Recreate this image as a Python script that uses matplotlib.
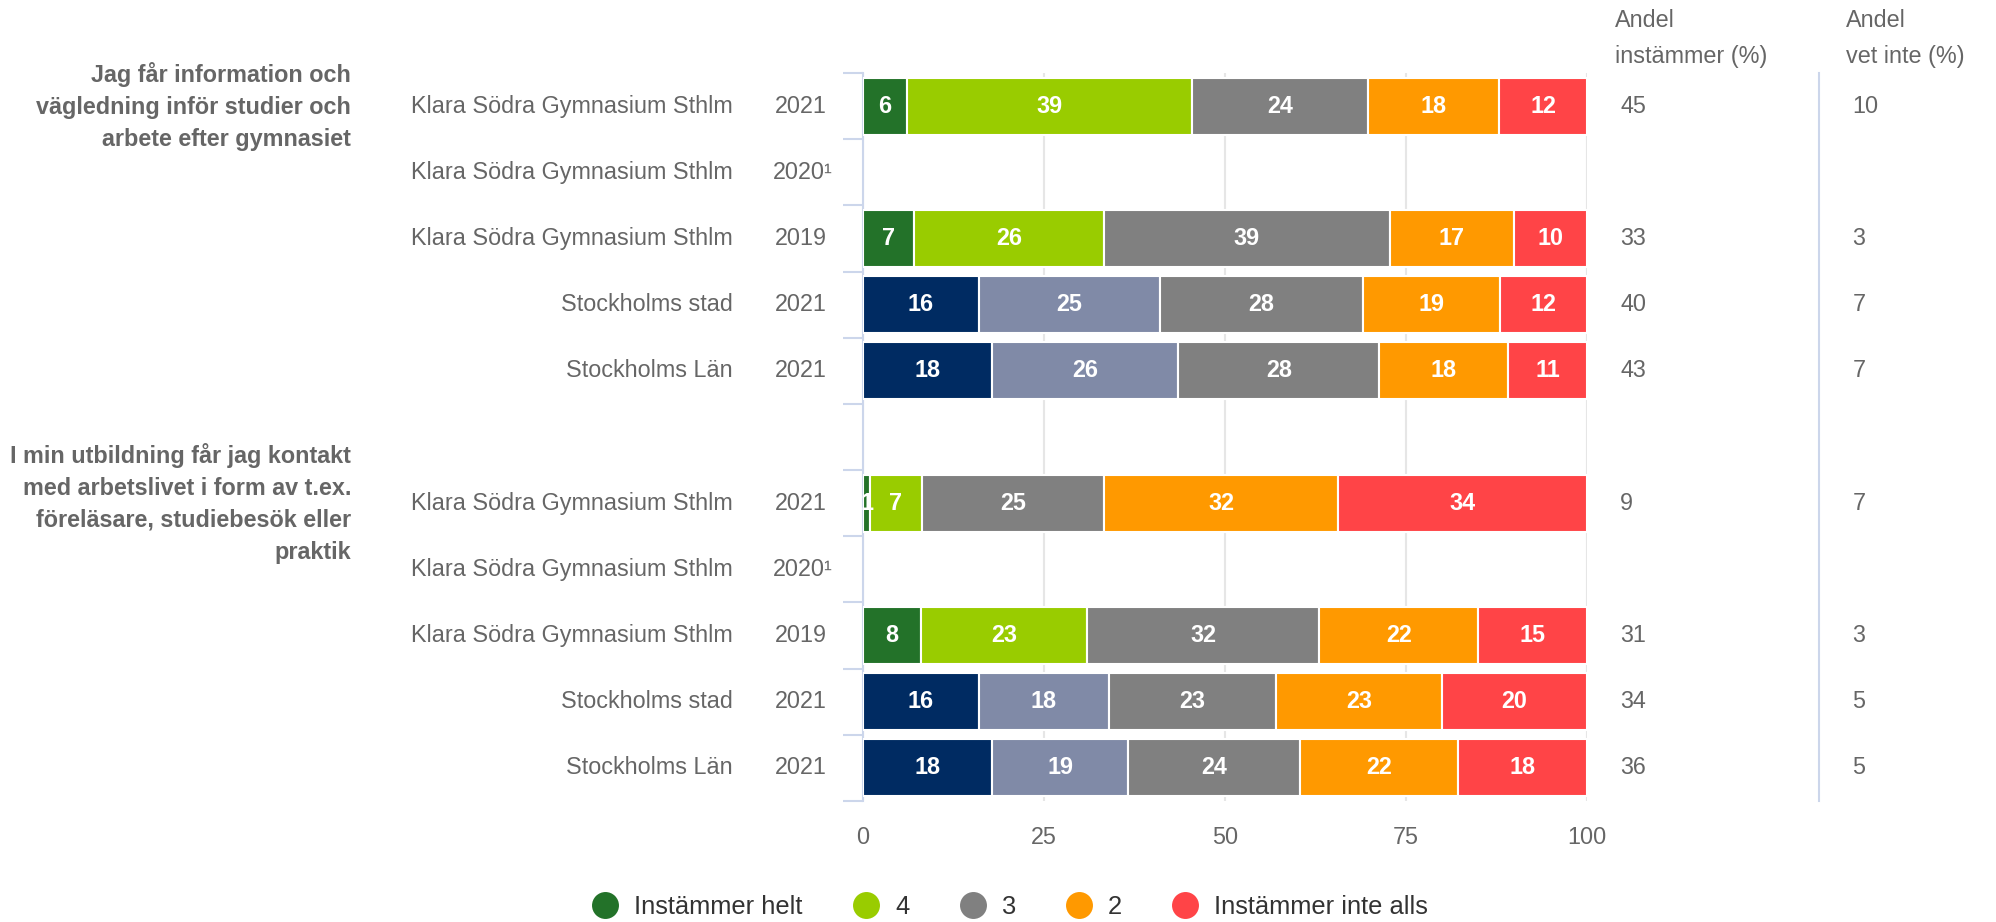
import numpy as np
import matplotlib
matplotlib.use('Agg')
import matplotlib.pyplot as plt
from matplotlib.lines import Line2D

plt.rcParams['font.family'] = ['Liberation Sans', 'DejaVu Sans']

# data
questions = ['Jag får information och\nvägledning inför studier och\narbete efter gymnasiet',
             'I min utbildning får jag kontakt\nmed arbetslivet i form av t.ex.\nföreläsare, studiebesök eller\npraktik']
units = ['Klara Södra Gymnasium Sthlm', 'Klara Södra Gymnasium Sthlm',
         'Klara Södra Gymnasium Sthlm', 'Stockholms stad', 'Stockholms Län']
years = ['2021', '2020¹', '2019', '2021', '2021']
series = ['Instämmer helt', '4', '3', '2', 'Instämmer inte alls']

q1_scores = [[6, 39, 24, 18, 12], None, [7, 26, 39, 17, 10],
             [16, 25, 28, 19, 12], [18, 26, 28, 18, 11]]
q1_agree = [45, None, 33, 40, 43]
q1_dontknow = [10, None, 3, 7, 7]

q2_scores = [[1, 7, 25, 32, 34], None, [8, 23, 32, 22, 15],
             [16, 18, 23, 23, 20], [18, 19, 24, 22, 18]]
q2_agree = [9, None, 31, 34, 36]
q2_dontknow = [7, None, 3, 5, 5]

school_colors = ['#237229', '#99cc00', '#808080', '#ff9900', '#ff4447']
region_colors = ['#002b62', '#808aa7', '#808080', '#ff9900', '#ff4447']

TXT = '#666666'
FS = 16.8

fig = plt.figure(figsize=(19.96, 9.22), dpi=100)
ax = fig.add_axes([863/1996, 1 - 801/922, 724/1996, 728/922])

groups = [(q1_scores, q1_agree, q1_dontknow), (q2_scores, q2_agree, q2_dontknow)]
for g, (scores, agree, dk) in enumerate(groups):
    base = g * 6
    ax.text(-0.707, base, questions[g], transform=ax.get_yaxis_transform(),
            ha='right', va='center', fontsize=FS, fontweight='bold', color=TXT,
            linespacing=1.5, multialignment='right')
    for r in range(5):
        y = base + r
        ax.text(-0.1796, y, units[r], transform=ax.get_yaxis_transform(),
                ha='right', va='center', fontsize=FS, color=TXT)
        yx = -0.0415 if years[r].endswith('¹') else -0.0497
        ax.text(yx, y, years[r], transform=ax.get_yaxis_transform(),
                ha='right', va='center', fontsize=FS, color=TXT)
        if scores[r] is None:
            continue
        vals = np.array(scores[r], dtype=float)
        pct = vals / vals.sum() * 100
        cols = region_colors if r >= 3 else school_colors
        left = 0
        for k in range(5):
            b = ax.barh(y, pct[k], left=left, height=0.86, color=cols[k],
                        edgecolor='white', linewidth=1.5, zorder=3)
            ax.bar_label(b, labels=[str(scores[r][k])], label_type='center',
                         color='white', fontsize=FS, fontweight='bold', zorder=4)
            left += pct[k]
        ax.text(1.0456, y, str(agree[r]), transform=ax.get_yaxis_transform(),
                ha='left', va='center', fontsize=FS, color=TXT)
        ax.text(1.3664, y, str(dk[r]), transform=ax.get_yaxis_transform(),
                ha='left', va='center', fontsize=FS, color=TXT)

# column headers
fig.text(1615/1996, 1 - 27/922, 'Andel', ha='left', va='baseline', fontsize=FS, color=TXT)
fig.text(1615/1996, 1 - 63/922, 'instämmer (%)', ha='left', va='baseline', fontsize=FS, color=TXT)
fig.text(1846/1996, 1 - 27/922, 'Andel', ha='left', va='baseline', fontsize=FS, color=TXT)
fig.text(1846/1996, 1 - 63/922, 'vet inte (%)', ha='left', va='baseline', fontsize=FS, color=TXT)

# separator line
ax.plot([1.3204, 1.3204], [0, 1], transform=ax.transAxes, color='#ccd6eb',
        lw=1.5, clip_on=False)

ax.set_xlim(0, 100)
ax.set_ylim(10.5, -0.5)
ax.set_xticks([0, 25, 50, 75, 100])
ax.xaxis.grid(True, color='#e6e6e6', lw=1.5, zorder=0)
ax.set_axisbelow(True)
ax.tick_params(axis='x', length=0, pad=18, labelsize=FS, labelcolor=TXT)
ax.set_yticks(np.arange(-0.5, 11, 1))
ax.set_yticklabels([])
ax.tick_params(axis='y', length=14.4, width=1.5, color='#ccd6eb')
for s in ['top', 'right', 'bottom']:
    ax.spines[s].set_visible(False)
ax.spines['left'].set_color('#ccd6eb')
ax.spines['left'].set_linewidth(1.5)

handles = [Line2D([], [], marker='o', ls='', ms=19.4, color=c, markeredgewidth=0)
           for c in school_colors]
fig.legend(handles, series, loc='center', bbox_to_anchor=(1010/1996, 1 - 907/922),
           ncol=5, frameon=False, fontsize=18.4, labelcolor='#333333',
           handlelength=1.06, handletextpad=0.6, columnspacing=1.95, borderpad=0)

fig.savefig('out.png', dpi=100)
